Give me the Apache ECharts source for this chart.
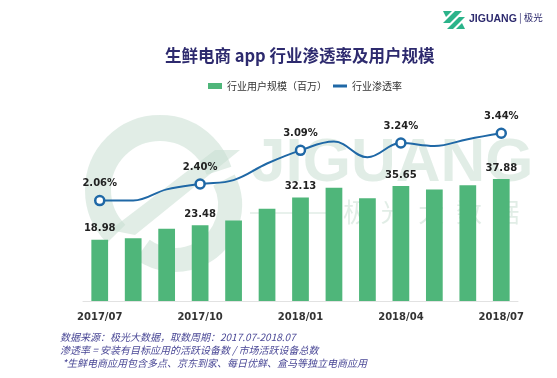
<!DOCTYPE html>
<html><head><meta charset="utf-8">
<script src="https://cdn.jsdelivr.net/npm/echarts@6/dist/echarts.min.js"></script>
<style>html,body{margin:0;padding:0;background:#fff;}#c{width:557px;height:378px;}</style>
</head><body><div id="c"></div>
<script>
var months = ['2017/07','2017/08','2017/09','2017/10','2017/11','2017/12','2018/01','2018/02','2018/03','2018/04','2018/05','2018/06','2018/07'];
var users = [18.98, 19.5, 22.4, 23.48, 25.0, 28.6, 32.13, 35.1, 31.9, 35.65, 34.6, 35.9, 37.88];
var rate = [2.06, 2.06, 2.29, 2.40, 2.48, 2.82, 3.09, 3.27, 2.95, 3.24, 3.18, 3.32, 3.44];
var labelIdx = [0, 3, 6, 9, 12];
var barName = '行业用户规模（百万）';
var lineName = '行业渗透率';
var titleText = '生鲜电商 app 行业渗透率及用户规模';
var notes = ['数据来源：极光大数据，取数周期：2017.07-2018.07',
             '渗透率 = 安装有目标应用的活跃设备数 / 市场活跃设备总数',
             ' *生鲜电商应用包含多点、京东到家、每日优鲜、盒马等独立电商应用'];

var GREEN = '#4fb67a', BLUE = '#1f68a6', NAVY = '#2d2a6e', NOTE = '#4a4896';
var chart = echarts.init(document.getElementById('c'));

var barData = users.map(function (v, i) {
  return { value: v, label: { show: labelIdx.indexOf(i) >= 0 } };
});
var lineData = rate.map(function (v, i) {
  var on = labelIdx.indexOf(i) >= 0;
  return { value: v, symbol: on ? 'circle' : 'none', label: { show: on } };
});

var wm = 'rgba(200,222,210,0.55)';
var graphics = [
  { type: 'arc', z: -10, shape: { cx: 160, cy: 190, r: 62, startAngle: Math.PI * 0.75, endAngle: Math.PI * 1.9 }, style: { stroke: wm, lineWidth: 26, fill: null } },
  { type: 'polygon', z: -10, shape: { points: [[110, 230], [215, 150], [240, 150], [135, 235]] }, style: { fill: wm } },
  { type: 'arc', z: -10, shape: { cx: 175, cy: 205, r: 55, startAngle: -Math.PI * 0.15, endAngle: Math.PI * 0.7 }, style: { stroke: wm, lineWidth: 24, fill: null } },
  { type: 'text', z: -10, left: 251, top: 133, style: { text: 'JIGUANG', font: 'bold 62px "Liberation Sans", sans-serif', fill: wm } },
  { type: 'line', z: -10, shape: { x1: 250, y1: 213, x2: 335, y2: 213 }, style: { stroke: wm, lineWidth: 1.5 } },
  { type: 'text', z: -10, left: 343, top: 199, style: { text: '极  光  大  数  据', font: '26px "Noto Sans CJK SC", sans-serif', fill: wm } },
  { type: 'polygon', shape: { points: [[443, 23], [455, 11], [462, 11], [450, 23]] }, style: { fill: '#2bb38a' } },
  { type: 'polygon', shape: { points: [[447, 29], [459, 17], [465, 17], [453, 29]] }, style: { fill: '#2bb38a' } },
  { type: 'polygon', shape: { points: [[443, 11], [452, 11], [446, 17]] }, style: { fill: '#2bb38a' } },
  { type: 'polygon', shape: { points: [[465, 29], [456, 29], [462, 23]] }, style: { fill: '#2bb38a' } },
  { type: 'text', left: 469, top: 14, style: { text: 'JIGUANG', font: 'bold 10.5px "Liberation Sans", sans-serif', fill: NAVY } },
  { type: 'text', left: 519, top: 13, style: { text: '| 极光', font: '9.5px "Noto Sans CJK SC", sans-serif', fill: NAVY } },
  { type: 'text', left: 165, top: 47, style: { text: titleText, font: 'bold 16.5px "Noto Sans CJK SC", sans-serif', fill: NAVY } }
];
notes.forEach(function (t, i) {
  graphics.push({ type: 'text', left: 60, top: 332 + i * 13.2, style: { text: t, font: 'italic 10px "Noto Sans CJK SC", sans-serif', fill: NOTE } });
});

chart.setOption({
  animation: false,
  graphic: graphics,
  legend: [
    { data: [{ name: barName, icon: 'rect' }], left: 208, top: 81, padding: 0, itemWidth: 14, itemHeight: 6, itemGap: 4,
      textStyle: { fontSize: 10, color: '#333', fontFamily: '"Noto Sans CJK SC", sans-serif' } },
    { data: [{ name: lineName, icon: 'rect', itemStyle: { color: BLUE, borderWidth: 0 } }], left: 333, top: 81, padding: 0, itemWidth: 14, itemHeight: 3,
      textStyle: { fontSize: 10, color: '#333', fontFamily: '"Noto Sans CJK SC", sans-serif' } }
  ],
  grid: { left: 83, right: 39, top: 106, bottom: 77 },
  xAxis: {
    type: 'category', data: months,
    axisLine: { lineStyle: { color: '#e2e2e2' } }, axisTick: { show: false },
    axisLabel: { interval: 2, margin: 11, fontSize: 10, fontWeight: 'bold', color: '#333', fontFamily: '"DejaVu Sans", sans-serif' }
  },
  yAxis: [
    { type: 'value', min: 0, max: 60.5, show: false, splitLine: { show: false } },
    { type: 'value', min: 0, max: 4, show: false, splitLine: { show: false } }
  ],
  series: [
    { name: barName, type: 'bar', data: barData, barWidth: '50%', itemStyle: { color: GREEN },
      label: { position: 'top', distance: 6, fontSize: 10, fontWeight: 'bold', color: '#222', fontFamily: '"DejaVu Sans", sans-serif' } },
    { name: lineName, type: 'line', yAxisIndex: 1, data: lineData, smooth: 0.4, showAllSymbol: true,
      symbol: 'circle', symbolSize: 9, z: 5,
      lineStyle: { color: BLUE, width: 2 },
      itemStyle: { color: '#fff', borderColor: BLUE, borderWidth: 2.5 },
      label: { position: 'top', distance: 6, fontSize: 10, fontWeight: 'bold', color: '#222', fontFamily: '"DejaVu Sans", sans-serif',
        formatter: function (p) { return p.value.toFixed(2) + '%'; } } }
  ]
});
</script></body></html>
